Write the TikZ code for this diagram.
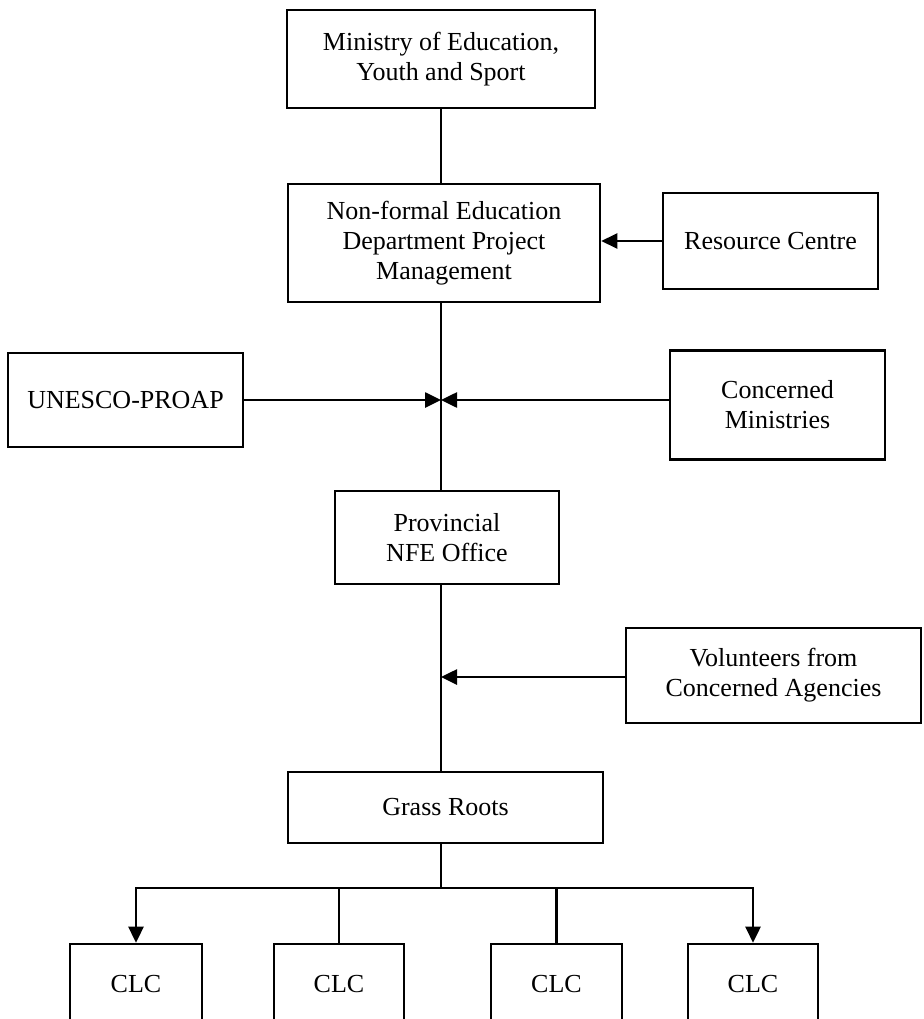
\documentclass[tikz,border=0pt]{standalone}
\usepackage{fontspec}
\setmainfont{Liberation Serif}
\usetikzlibrary{arrows.meta}
\begin{document}
\begin{tikzpicture}[x=1pt,y=-1pt,
  orgbox/.style={draw, line width=2.6pt, align=center, inner sep=0pt,
    font=\fontsize{26}{30}\selectfont},
  link/.style={line width=2.6pt},
  arr/.style={link, -{Triangle[length=16pt,width=15pt]}}]
\clip (0,0) rectangle (923,1019);
\fill[white] (0,0) rectangle (923,1019);

% boxes
\node[orgbox, minimum width=308, minimum height=98] (min) at (441,59)
  {Ministry of Education,\\Youth and Sport};
\node[orgbox, minimum width=312, minimum height=118] (nf) at (444,243)
  {Non-formal Education\\Department Project\\Management};
\node[orgbox, minimum width=215, minimum height=96] (rc) at (770.5,241)
  {Resource Centre};
\node[orgbox, minimum width=235, minimum height=94] (unesco) at (125.5,400)
  {UNESCO-PROAP};
\node[orgbox, minimum width=215, minimum height=109] (cm) at (777.5,405)
  {Concerned\\Ministries};
\node[orgbox, minimum width=224, minimum height=93] (prov) at (447,537.5)
  {Provincial\\NFE Office};
\node[orgbox, minimum width=295, minimum height=95] (vol) at (773.5,675.5)
  {Volunteers from\\Concerned Agencies};
\node[orgbox, minimum width=315, minimum height=71] (gr) at (445.5,807.5)
  {Grass Roots};
\node[orgbox, minimum width=132, minimum height=80] (clc1) at (136,984) {CLC};
\node[orgbox, minimum width=130, minimum height=80] (clc2) at (339,984) {CLC};
\node[orgbox, minimum width=131, minimum height=80] (clc3) at (556.5,984) {CLC};
\node[orgbox, minimum width=130, minimum height=80] (clc4) at (753,984) {CLC};

% junction points on the main spine
\coordinate (j1) at (441,400);
\coordinate (j2) at (441,677);
\coordinate (br) at (441,888);

% main spine
\draw[link] (min.south -| j1) -- (nf.north -| j1);
\draw[link] (nf.south -| j1) -- (prov.north -| j1);
\draw[link] (prov.south -| j1) -- (gr.north -| j1);
\draw[link] (gr.south -| j1) -- (br);

% side inputs
\draw[arr] (rc.west) -- (nf.east |- rc.west);
\draw[arr] (unesco.east |- j1) -- (j1);
\draw[arr] (cm.west |- j1) -- (j1);
\draw[arr] (vol.west |- j2) -- (j2);

% branches to the CLCs
\draw[arr] (br) -| (clc1.north);
\draw[arr] (br) -| (clc4.north);
\draw[link] (clc2.north) -- (clc2.north |- br);
\draw[link] (clc3.north) -- (clc3.north |- br);
\end{tikzpicture}
\end{document}
